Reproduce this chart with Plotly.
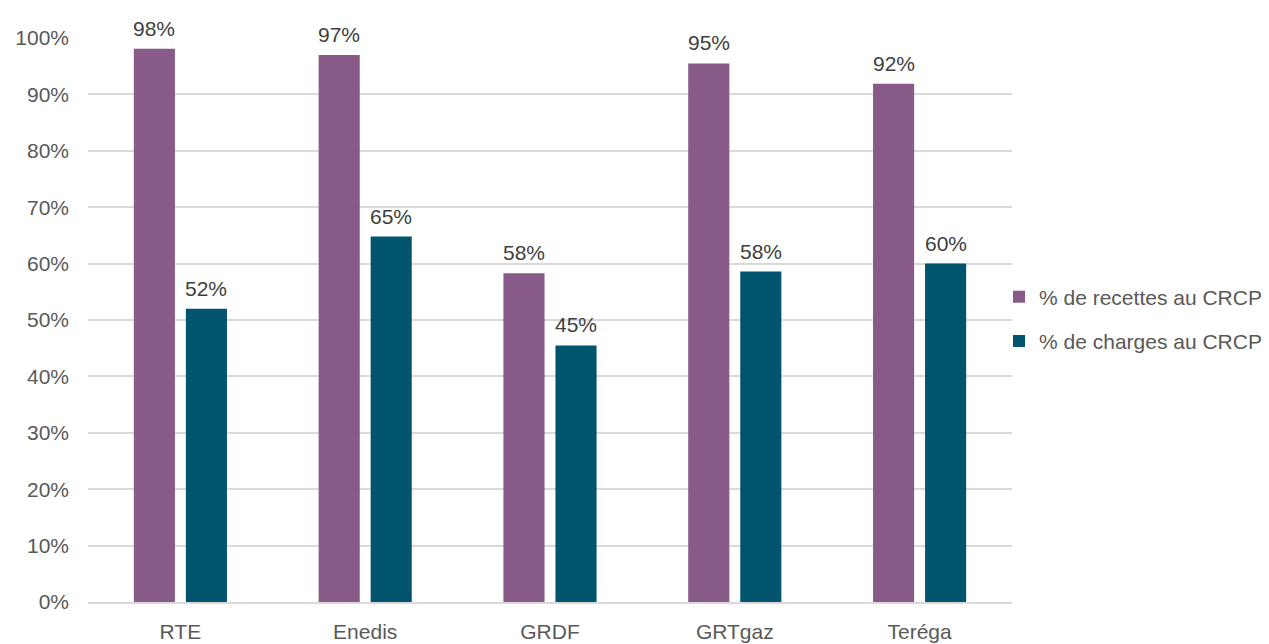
import plotly.graph_objects as go

categories = ["RTE", "Enedis", "GRDF", "GRTgaz", "Teréga"]
recettes = [98.1, 97.0, 58.3, 95.5, 91.9]
charges = [52.0, 64.8, 45.5, 58.6, 60.0]
recettes_labels = ["98%", "97%", "58%", "95%", "92%"]
charges_labels = ["52%", "65%", "45%", "58%", "60%"]
tick_vals = [0, 10, 20, 30, 40, 50, 60, 70, 80, 90, 100]
tick_text = [f"{v}%" for v in tick_vals]

FONT = "Liberation Sans, Arial, sans-serif"
TXT = "#595959"
FS = 21

fig = go.Figure()
fig.add_trace(go.Bar(
    x=categories, y=recettes, name="% de recettes au CRCP",
    marker=dict(color="#875A88", line=dict(width=0)),
    legendgroup="a",
))
fig.add_trace(go.Bar(
    x=categories, y=charges, name="% de charges au CRCP",
    marker=dict(color="#00546E", line=dict(width=0)),
    legendgroup="b",
))

annotations = []
for cat, v, lab in zip(categories, recettes, recettes_labels):
    annotations.append(dict(x=cat, y=v, text=lab, xref="x", yref="y",
                            showarrow=False, yanchor="bottom", xshift=-26, yshift=7,
                            font=dict(size=FS, color="#404040", family=FONT)))
for cat, v, lab in zip(categories, charges, charges_labels):
    annotations.append(dict(x=cat, y=v, text=lab, xref="x", yref="y",
                            showarrow=False, yanchor="bottom", xshift=26, yshift=7,
                            font=dict(size=FS, color="#404040", family=FONT)))

fig.update_layout(
    width=1269, height=644,
    margin=dict(l=88, r=257, t=38, b=42, autoexpand=False),
    paper_bgcolor="white", plot_bgcolor="white",
    barmode="group", bargap=0.437, bargroupgap=0.21,
    font=dict(family=FONT, size=FS, color=TXT),
    showlegend=True,
    legend=dict(xref="container", yref="container", x=999 / 1269, y=(644 - 319) / 644,
                xanchor="left", yanchor="middle",
                font=dict(size=FS, color=TXT), tracegroupgap=14,
                bgcolor="rgba(0,0,0,0)"),
    xaxis=dict(showgrid=False, showline=True, linecolor="#D9D9D9", linewidth=1.5,
               ticks="", tickfont=dict(size=FS, color=TXT), ticklabelstandoff=10,
               automargin=False),
    yaxis=dict(range=[0, 100], tickvals=tick_vals, ticktext=tick_text,
               showgrid=True, gridcolor="#D9D9D9", gridwidth=1.5,
               zeroline=False, showline=False, ticks="",
               tickfont=dict(size=FS, color=TXT), ticklabelstandoff=18,
               automargin=False),
    annotations=annotations,
)

fig.write_html("out.html")
